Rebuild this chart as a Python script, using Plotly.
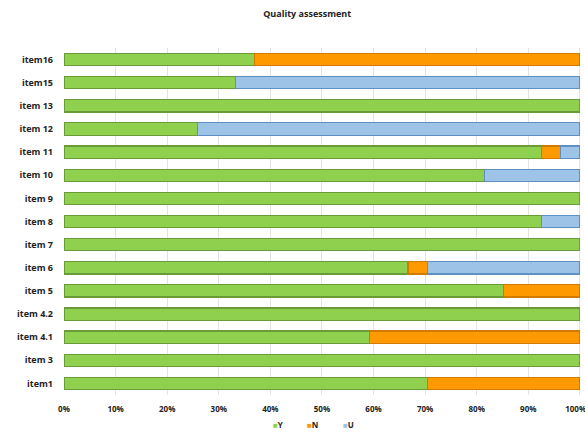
import plotly.graph_objects as go

categories = ["item1", "item 3", "item 4.1", "item 4.2", "item 5", "item 6", "item 7",
              "item 8", "item 9", "item 10", "item 11", "item 12", "item 13", "item15", "item16"]
y_vals = [70.4, 100, 59.3, 100, 85.2, 66.7, 100, 92.6, 100, 81.5, 92.6, 25.9, 100, 33.3, 37.0]
n_vals = [29.6, 0, 40.7, 0, 14.8, 3.7, 0, 0, 0, 0, 3.7, 0, 0, 0, 63.0]
u_vals = [0, 0, 0, 0, 0, 29.6, 0, 7.4, 0, 18.5, 3.7, 74.1, 0, 66.7, 0]
x_ticks = [0, 10, 20, 30, 40, 50, 60, 70, 80, 90, 100]
x_tick_labels = ["0%", "10%", "20%", "30%", "40%", "50%", "60%", "70%", "80%", "90%", "100%"]

series = [
    ("Y", y_vals, "#8fd14f", "#6a9b38"),
    ("N", n_vals, "#ff9900", "#d27a00"),
    ("U", u_vals, "#9dc3e6", "#5f8fc4"),
]

font_family = "Open Sans, Liberation Sans, sans-serif"
fig = go.Figure()
for name, vals, fill, edge in series:
    fig.add_trace(go.Bar(
        y=categories, x=[v / 100 for v in vals], name=name, orientation="h",
        marker=dict(color=fill, line=dict(color=edge, width=1.2)),
        showlegend=False,
    ))

# legend built as annotations (small squares next to labels)
legend_x = [0.398, 0.462, 0.532]
for (name, vals, fill, edge), lx in zip(series, legend_x):
    fig.add_annotation(
        xref="paper", yref="paper", x=lx, y=-0.085, xanchor="left", yanchor="middle",
        text=f"<span style='color:{fill}'>■</span><b>{name}</b>", showarrow=False,
        font=dict(family=font_family, size=8, color="#222222"),
    )

tick_text = [f"<b>{t}</b>" for t in x_tick_labels]
tick_text[-1] = tick_text[-1] + "&nbsp;&nbsp;&nbsp;&nbsp;"

fig.update_layout(
    barmode="stack",
    bargap=0.47,
    width=585, height=433,
    margin=dict(l=64, r=0, t=48, b=38, autoexpand=False),
    paper_bgcolor="white", plot_bgcolor="white",
    title=dict(text="<b>Quality assessment</b>", x=0.525, xanchor="center", y=0.975, yanchor="top",
               font=dict(family=font_family, size=9, color="#222222")),
    xaxis=dict(range=[0, 1.01], tickvals=[t / 100 for t in x_ticks], ticktext=tick_text,
               showgrid=True, gridcolor="#e3e3e3", gridwidth=1, zeroline=False, automargin=False,
               tickfont=dict(family=font_family, size=8, color="#222222"), ticks="", ticklabelstandoff=8,
               ticklabeloverflow="allow", showline=False, fixedrange=True),
    yaxis=dict(categoryorder="array", categoryarray=categories, automargin=False,
               ticktext=[f"<b>{c}</b>" for c in categories], tickvals=categories,
               tickfont=dict(family=font_family, size=9, color="#222222"), ticks="",
               ticklabelstandoff=10, showgrid=False, showline=False),
    showlegend=False,
)
fig.write_html("out.html")
